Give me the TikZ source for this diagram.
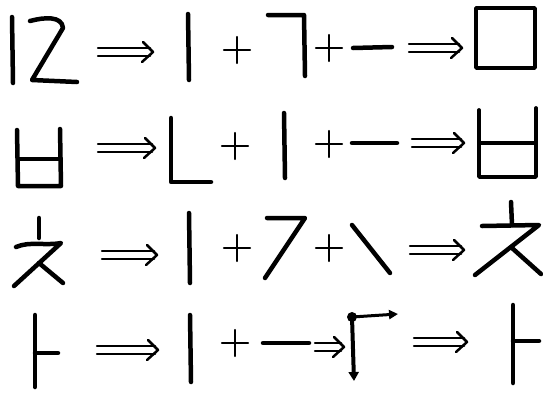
\documentclass[tikz,border=0pt]{standalone}
\usetikzlibrary{arrows.meta}

\tikzset{
  stroke/.style={line width=4.5pt, line cap=round, line join=round},
  plusmark/.style={line width=2.3pt, line cap=round},
  arrowline/.style={line width=2.5pt, line cap=round, line join=round},
}

% double arrow from x=#1 to x=#2 at height #3
\newcommand{\dblarrow}[3]{
  \draw[arrowline] (#1,{#3-4}) -- ({#2-3},{#3-4});
  \draw[arrowline] (#1,{#3+4}) -- ({#2-3},{#3+4});
  \draw[arrowline] ({#2-10},{#3-10}) -- (#2,#3) -- ({#2-11},{#3+10});
}
% plus sign at (#1,#2)
\newcommand{\plusat}[2]{
  \draw[plusmark] ({#1-13},#2) -- ({#1+13},#2) (#1,{#2-13}) -- (#1,{#2+13});
}

\begin{document}
\begin{tikzpicture}[x=1pt, y=-1pt]
    \useasboundingbox (0,0) rectangle (543,394);

    % first row
    \draw[stroke] (12,17) -- (13,83);
    \draw[stroke] (30,21) .. controls (45,17) and (62,16) .. (63,28) -- (32,80) -- (77,82);
    \dblarrow{98}{153}{52}
    \draw[stroke] (188,14) -- (189,80);
    \plusat{237}{50}
    \draw[stroke] (268,15) -- (304,15) -- (305,76);
    \plusat{329}{48}
    \draw[stroke] (353,48) -- (392,47);
    \dblarrow{409}{462}{48}
    \draw[stroke, line width=3.8pt] (476,8) rectangle (535,68);

    % second row
    \draw[stroke] (17,130) -- (18,186) -- (61,186) -- (60,129);
    \draw[stroke] (18,159) -- (60,159);
    \dblarrow{98}{155}{148}
    \draw[stroke] (171,118) -- (171,182) -- (211,182);
    \plusat{235}{146}
    \draw[stroke] (284,113) -- (285,178);
    \plusat{329}{144}
    \draw[stroke] (352,143) -- (397,143);
    \dblarrow{412}{464}{143}
    \draw[stroke, line width=3.8pt] (479,110) -- (479,177) -- (536,177) -- (536,108);
    \draw[stroke, line width=3.8pt] (479,143) -- (536,143);

    % third row
    \draw[stroke] (39,218) -- (39,238);
    \draw[stroke] (16,247) .. controls (30,241) and (45,246) .. (61,243) -- (14,286);
    \draw[stroke] (39,263) -- (63,283);
    \dblarrow{102}{157}{255}
    \draw[stroke] (189,213) -- (190,283);
    \plusat{237}{248}
    \draw[stroke] (267,218) -- (305,218) -- (265,278);
    \plusat{329}{248}
    \draw[stroke] (352,225) -- (390,273);
    \dblarrow{410}{464}{250}
    \draw[stroke] (511,202) -- (512,225);
    \draw[stroke] (482,226) -- (539,225) -- (475,275);
    \draw[stroke] (512,248) -- (541,274);

    % fourth row
    \draw[stroke] (35,315) -- (35,387);
    \draw[stroke] (35,353) -- (58,353);
    \dblarrow{97}{158}{350}
    \draw[stroke] (190,315) -- (191,382);
    \plusat{235}{343}
    \draw[stroke] (263,343) -- (309,343);
    \dblarrow{315}{344}{347}
    \fill (352,317) circle (5);
    \draw[stroke, line width=3pt, -{Triangle[length=9pt,width=9pt]}] (352,317) -- (398,314);
    \draw[stroke, line width=4pt, -{Triangle[length=9pt,width=10pt]}] (352,317) -- (354,381);
    \dblarrow{414}{467}{342}
    \draw[stroke] (513,305) -- (513,383);
    \draw[stroke] (513,341) -- (539,341);

\end{tikzpicture}
\end{document}
